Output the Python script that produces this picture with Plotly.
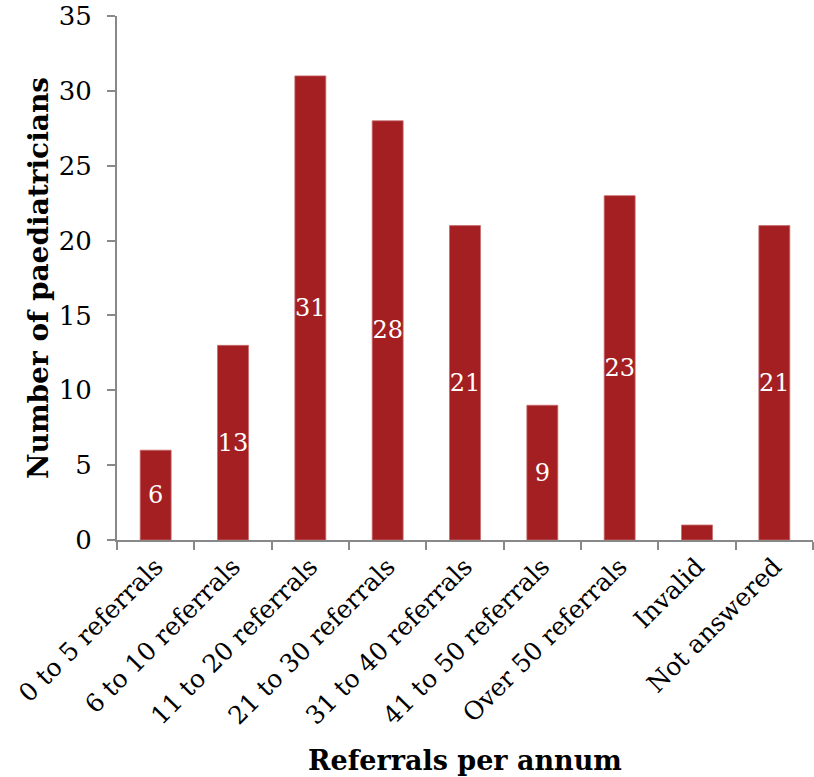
import plotly.graph_objects as go

categories = ["0 to 5 referrals", "6 to 10 referrals", "11 to 20 referrals",
              "21 to 30 referrals", "31 to 40 referrals", "41 to 50 referrals",
              "Over 50 referrals", "Invalid", "Not answered"]
counts = [6, 13, 31, 28, 21, 9, 23, 1, 21]
bar_labels = ["6", "13", "31", "28", "21", "9", "23", "", "21"]
y_ticks = [0, 5, 10, 15, 20, 25, 30, 35]

FONT = "DejaVu Serif"

fig = go.Figure(go.Bar(
    x=categories, y=counts, text=bar_labels,
    textposition="inside", insidetextanchor="middle",
    textfont=dict(family=FONT, size=24, color="white"),
    marker=dict(color="#A31F21", line=dict(color="#C86A6B", width=0.8)),
    width=0.4, textangle=0,
))

fig.update_layout(
    width=814, height=777,
    margin=dict(l=117, r=1, t=16, b=237),
    plot_bgcolor="white", paper_bgcolor="white",
    font=dict(family=FONT, color="black"),
    showlegend=False,
    uniformtext=dict(minsize=24, mode="show"),
)
fig.update_xaxes(
    automargin=False,
    showline=True, linecolor="#888888", linewidth=2,
    ticks="outside", tickson="boundaries", ticklen=8, tickwidth=2, tickcolor="#888888",
    tickangle=-45, tickfont=dict(family=FONT, size=25),
    title=dict(text="<b>Referrals per annum</b>", font=dict(family=FONT, size=27), standoff=22),
    showgrid=False,
)
fig.update_yaxes(
    automargin=False,
    range=[0, 35], tickvals=y_ticks,
    showline=True, linecolor="#888888", linewidth=2,
    ticks="outside", ticklen=8, tickwidth=2, tickcolor="#888888",
    ticklabelstandoff=10, ticklabeloverflow="allow",
    tickfont=dict(family=FONT, size=26),
    title=dict(text="<b>Number of paediatricians</b>", font=dict(family=FONT, size=28), standoff=2),
    showgrid=False, zeroline=False,
)

fig.write_html("out.html", config={"displayModeBar": False},
               post_script="document.body.style.margin='0';")
